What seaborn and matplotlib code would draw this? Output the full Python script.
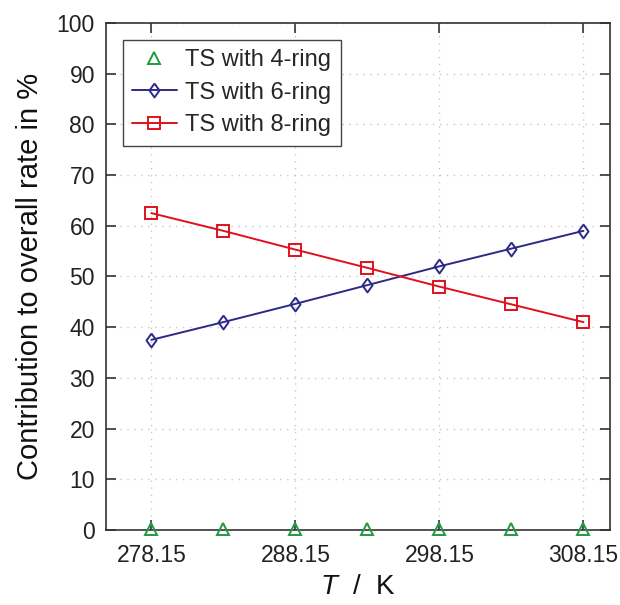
import matplotlib
matplotlib.use("Agg")
import matplotlib.pyplot as plt
import seaborn as sns
import pandas as pd

temperature = [278.15, 283.15, 288.15, 293.15, 298.15, 303.15, 308.15]
ring4 = [0.1, 0.1, 0.1, 0.1, 0.1, 0.1, 0.1]
ring6 = [37.5, 41.0, 44.6, 48.3, 52.0, 55.5, 59.0]
ring8 = [62.5, 59.0, 55.3, 51.7, 48.0, 44.5, 41.0]
series_names = ["TS with 4-ring", "TS with 6-ring", "TS with 8-ring"]
xticks = [278.15, 288.15, 298.15, 308.15]
xtick_labels = ["278.15", "288.15", "298.15", "308.15"]
yticks = list(range(0, 101, 10))

sns.set_theme(style="ticks")
plt.rcParams["font.family"] = ["Liberation Sans", "DejaVu Sans"]
plt.rcParams["mathtext.fontset"] = "custom"
plt.rcParams["mathtext.it"] = "Liberation Sans:italic"

fig = plt.figure(figsize=(6.2, 6.05), dpi=100)
ax = fig.add_axes([0.171, 0.124, 0.813, 0.838])

df = pd.DataFrame({"T": temperature, "r4": ring4, "r6": ring6, "r8": ring8})

green = "#1f9a3e"
navy = "#2c2a86"
red = "#e0101d"
diamond = [(0, 1), (0.72, 0), (0, -1), (-0.72, 0), (0, 1)]

sns.lineplot(data=df, x="T", y="r4", ax=ax, linestyle="none", marker="^",
             markersize=8.5, markerfacecolor="none", markeredgecolor=green,
             markeredgewidth=1.4, color=green, label=series_names[0],
             clip_on=False, zorder=5)
sns.lineplot(data=df, x="T", y="r6", ax=ax, color=navy, linewidth=1.4,
             marker=diamond, markersize=10, markerfacecolor="none",
             markeredgecolor=navy, markeredgewidth=1.4, label=series_names[1])
sns.lineplot(data=df, x="T", y="r8", ax=ax, color=red, linewidth=1.4,
             marker="s", markersize=9, markerfacecolor="none",
             markeredgecolor=red, markeredgewidth=1.4, label=series_names[2])

ax.set_xlim(275.0, 310.0)
ax.set_ylim(0, 100)
ax.set_xticks(xticks)
ax.set_xticklabels(xtick_labels)
ax.set_yticks(yticks)

ax.grid(True, linestyle=(0, (1, 4)), color="#c8c8c8", linewidth=1.0)
ax.set_axisbelow(True)

for s in ax.spines.values():
    s.set_color("#333333")
    s.set_linewidth(1.2)

ax.tick_params(direction="in", length=7, width=1.2, color="#333333",
               top=True, right=True, labelsize=16.5, labelcolor="#222222")
ax.tick_params(axis="x", pad=10)
ax.tick_params(axis="y", pad=8)

ax.set_xlabel(r"$T$  /  K", fontsize=20, color="#111111", labelpad=5)
ax.set_ylabel("Contribution to overall rate in %", fontsize=21,
              color="#111111", labelpad=9)

leg = ax.legend(loc="upper left", fontsize=17, frameon=True, fancybox=False,
                borderaxespad=0.7, handlelength=1.9, handletextpad=0.35,
                labelspacing=0.45, borderpad=0.4)
leg.get_frame().set_edgecolor("#444444")
leg.get_frame().set_linewidth(1.0)
leg.get_frame().set_alpha(1.0)

fig.savefig("out.png", dpi=100)
